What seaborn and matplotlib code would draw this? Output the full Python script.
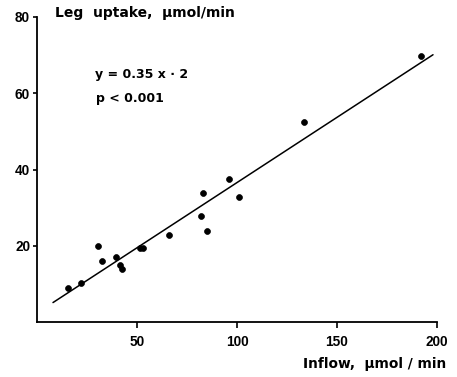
import matplotlib
matplotlib.use("Agg")
import matplotlib.pyplot as plt
import seaborn as sns

# data
inflow = [15.3, 22, 30.7, 32.5, 39.3, 41.7, 42.5, 51.5, 53.2, 65.8,
          82, 82.8, 85, 95.8, 100.8, 133.3, 192]
uptake = [9.0, 10.1, 20.0, 16.0, 17.0, 15.0, 14.0, 19.4, 19.5, 22.9,
          27.9, 33.8, 23.9, 37.4, 32.8, 52.5, 69.9]

# regression line end points
line_x = [8, 198]
line_y = [5.1, 70.1]

x_ticks = [50, 100, 150, 200]
y_ticks = [20, 40, 60, 80]

sns.set_style("ticks")
plt.rcParams["font.family"] = ["Liberation Sans", "DejaVu Sans"]
plt.rcParams["font.weight"] = "bold"
plt.rcParams["text.color"] = "black"

fig = plt.figure(figsize=(4.57, 3.77), dpi=100)
ax = fig.add_axes([37 / 457, 1 - 322 / 377, 400 / 457, 305 / 377])

sns.lineplot(x=line_x, y=line_y, ax=ax, color="black", linewidth=1.1, sort=False)
sns.scatterplot(x=inflow, y=uptake, ax=ax, color="black", s=18, edgecolor="black",
                linewidth=0.5, zorder=3, clip_on=False)

ax.set_xlim(0, 200)
ax.set_ylim(0, 80)
ax.set_xticks(x_ticks)
ax.set_yticks(y_ticks)
ax.tick_params(axis="both", direction="out", width=1.2, labelsize=9.8,
               color="black", labelcolor="black")
ax.tick_params(axis="x", length=4, pad=5)
ax.tick_params(axis="y", length=3, pad=2)
for lab in ax.get_xticklabels() + ax.get_yticklabels():
    lab.set_fontweight("bold")
sns.despine(ax=ax)
for sp in ["left", "bottom"]:
    ax.spines[sp].set_linewidth(1.3)
    ax.spines[sp].set_color("black")

wide = ["DejaVu Sans"]
ax.text(29, 65, "y = 0.35 x · 2", fontsize=9, fontweight="bold", va="center",
        family=wide, color="black")
ax.text(29.5, 58.6, "p < 0.001", fontsize=9, fontweight="bold", va="center",
        family=wide, color="black")

fig.text(55 / 457, 1 - 13 / 377, "Leg  uptake,  μmol/min", fontsize=10,
         fontweight="bold", va="center", ha="left", family=wide, color="black")
fig.text(446 / 457, 1 - 364 / 377, "Inflow,  μmol / min", fontsize=9.9,
         fontweight="bold", va="center", ha="right", family=wide, color="black")

fig.savefig("out.png", dpi=100, facecolor="white")
